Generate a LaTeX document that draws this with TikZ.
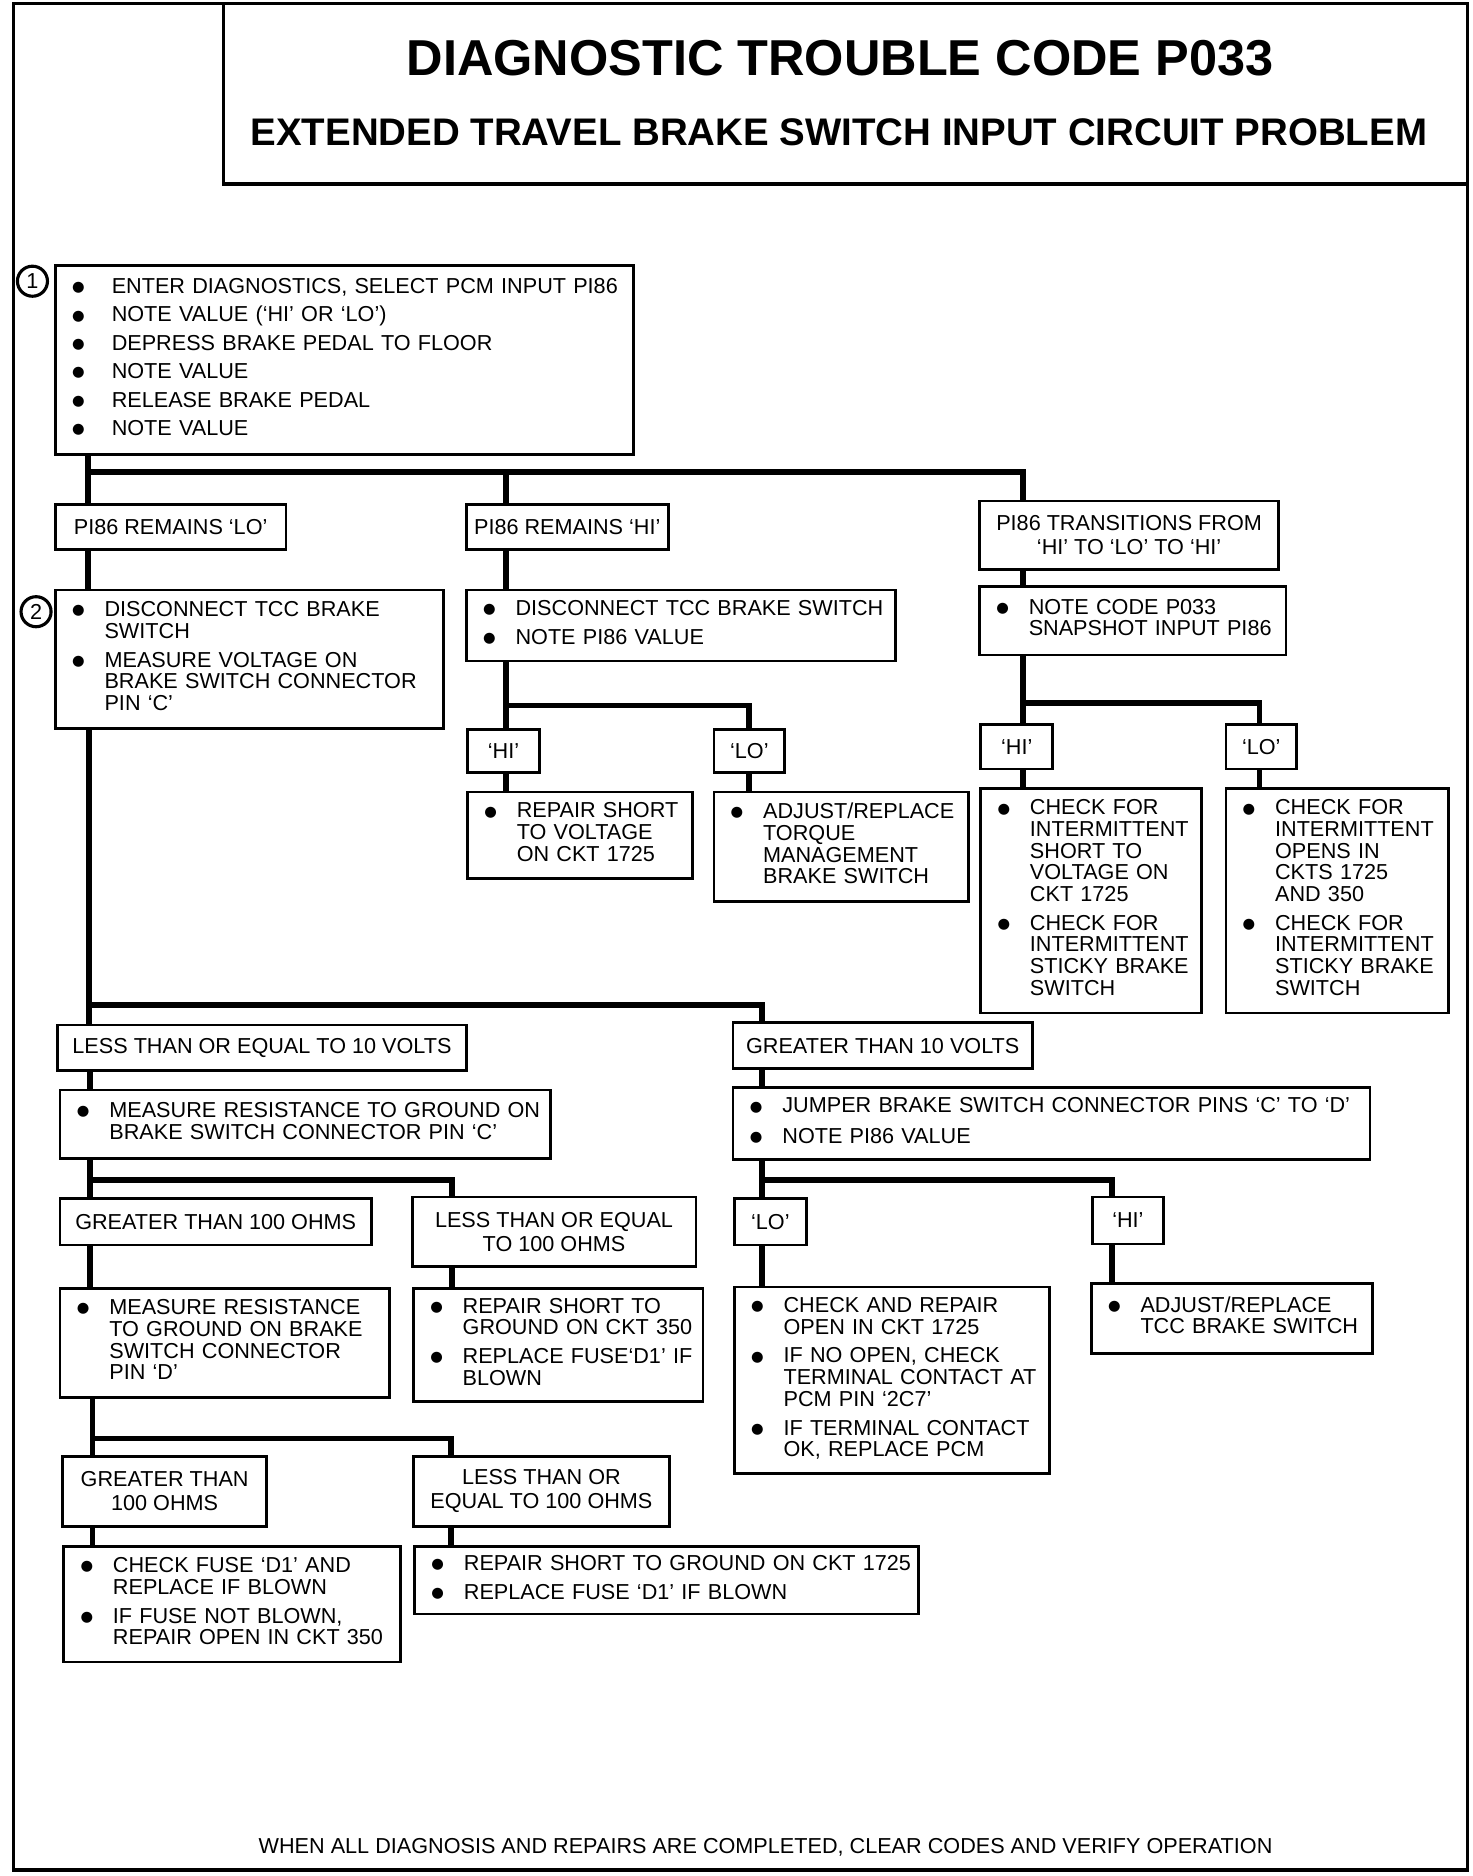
\documentclass[tikz,border=0pt]{standalone}
\usepackage{fontspec}
\setmainfont{Liberation Sans}
\newfontfamily\symfont{DejaVu Sans}
\hyphenpenalty=10000
\newcommand\bdot{\raisebox{0.8pt}{\symfont\fontsize{6}{6}\selectfont ●}}
\newcommand\blist[2][13.5pt]{\begin{tabular}{@{}p{#1}@{}l@{}}#2\end{tabular}}

\begin{document}
\begin{tikzpicture}[x=0.5pt, y=-0.5pt,
    box/.style={draw, line width=1.1pt, anchor=north west, outer sep=0pt, inner xsep=7pt, inner ysep=0pt, align=left, font=\fontsize{9}{9}\selectfont},
    tag/.style={draw, line width=1.1pt, anchor=north west, outer sep=0pt, inner sep=0pt, align=center, font=\fontsize{9}{10}\selectfont},
    link/.style={line width=2.4pt},
    stepnum/.style={circle, draw, line width=1.3pt, minimum size=12.5pt, inner sep=0pt, font=\fontsize{9}{9}\selectfont}]
    \useasboundingbox (0,0) rectangle (1225,1561);
    \draw [line width=1.4pt] (11,3) rectangle (1221,1556);
    \draw [line width=1.4pt] (186,3) rectangle (1221,153);
    \node [font=\bfseries\fontsize{21}{21}\selectfont, inner sep=0pt] (head) at (699,48) {DIAGNOSTIC TROUBLE CODE P033};
    \node [font=\bfseries\fontsize{16}{16}\selectfont, inner sep=0pt] (subhead) at (698,110) {EXTENDED TRAVEL BRAKE SWITCH INPUT CIRCUIT PROBLEM};

    \node [stepnum] (n1) at (27,234) {1};
    \node [box, minimum width=240.5pt, text width=226.5pt, minimum height=78.5pt] (step1) at (46,221) {\blist[16.5pt]{\bdot & ENTER DIAGNOSTICS, SELECT PCM INPUT PI86\\[2.8pt]
        \bdot & NOTE VALUE (‘HI’ OR ‘LO’)\\[2.8pt] \bdot & DEPRESS BRAKE PEDAL TO FLOOR\\[2.8pt]
        \bdot & NOTE VALUE\\[2.8pt] \bdot & RELEASE BRAKE PEDAL\\[2.8pt] \bdot & NOTE VALUE}};

    \node [tag, minimum width=96pt, minimum height=18.5pt] (lo1) at (46,420) {PI86 REMAINS ‘LO’};
    \node [tag, minimum width=84pt, minimum height=18.5pt] (hi1) at (388,420) {PI86 REMAINS ‘HI’};
    \node [tag, minimum width=124.5pt, minimum height=28.5pt] (tr1) at (815,417) {PI86 TRANSITIONS FROM\\‘HI’ TO ‘LO’ TO ‘HI’};

    \node [stepnum] (n2) at (30,509) {2};
    \node [box, minimum width=161.5pt, text width=147.5pt, minimum height=57.5pt] (step2) at (46,491) {\blist{\bdot & DISCONNECT TCC BRAKE\\ & SWITCH\\[3pt]
        \bdot & MEASURE VOLTAGE ON\\ & BRAKE SWITCH CONNECTOR\\ & PIN ‘C’}};
    \node [box, minimum width=178.5pt, text width=164.5pt, minimum height=29.5pt] (dtcc) at (388,491) {\blist{\bdot & DISCONNECT TCC BRAKE SWITCH\\[3pt] \bdot & NOTE PI86 VALUE}};
    \node [box, minimum width=127.5pt, text width=113.5pt, minimum height=28.5pt] (snap) at (815,488) {\blist{\bdot & NOTE CODE P033\\ & SNAPSHOT INPUT PI86}};

    \node [tag, minimum width=30pt, minimum height=18pt] (hiA) at (389,607) {‘HI’};
    \node [tag, minimum width=29.5pt, minimum height=18pt] (loA) at (594,607) {‘LO’};
    \node [box, minimum width=93.5pt, text width=79.5pt, minimum height=36pt] (rsv) at (389,659) {\blist{\bdot & REPAIR SHORT\\ & TO VOLTAGE\\ & ON CKT 1725}};
    \node [box, minimum width=106pt, text width=92pt, minimum height=45.5pt] (adjtq) at (594,659) {\blist{\bdot & ADJUST/REPLACE\\ & TORQUE\\ & MANAGEMENT\\ & BRAKE SWITCH}};

    \node [tag, minimum width=30pt, minimum height=18.5pt] (hiB) at (816,603) {‘HI’};
    \node [tag, minimum width=29.5pt, minimum height=18.5pt] (loB) at (1020,603) {‘LO’};
    \node [box, minimum width=92pt, text width=78pt, minimum height=93.5pt] (chkA) at (816,656) {\blist{\bdot & CHECK FOR\\ & INTERMITTENT\\ & SHORT TO\\ & VOLTAGE ON\\ & CKT 1725\\[3pt]
        \bdot & CHECK FOR\\ & INTERMITTENT\\ & STICKY BRAKE\\ & SWITCH}};
    \node [box, minimum width=92.5pt, text width=78.5pt, minimum height=93.5pt] (chkB) at (1020,656) {\blist{\bdot & CHECK FOR\\ & INTERMITTENT\\ & OPENS IN\\ & CKTS 1725\\ & AND 350\\[3pt]
        \bdot & CHECK FOR\\ & INTERMITTENT\\ & STICKY BRAKE\\ & SWITCH}};

    \node [tag, minimum width=170pt, minimum height=19pt] (le10) at (48,853) {LESS THAN OR EQUAL TO 10 VOLTS};
    \node [tag, minimum width=124.5pt, minimum height=19pt] (gt10) at (610,851) {GREATER THAN 10 VOLTS};
    \node [box, minimum width=204pt, text width=190pt, minimum height=28.5pt] (mres) at (50,907) {\blist{\bdot & MEASURE RESISTANCE TO GROUND ON\\ & BRAKE SWITCH CONNECTOR PIN ‘C’}};
    \node [box, minimum width=265pt, text width=251pt, minimum height=30pt] (jump) at (610,905) {\blist{\bdot & JUMPER BRAKE SWITCH CONNECTOR PINS ‘C’ TO ‘D’\\[3.5pt] \bdot & NOTE PI86 VALUE}};

    \node [tag, minimum width=129.5pt, minimum height=19.5pt] (gt100) at (50,997) {GREATER THAN 100 OHMS};
    \node [tag, minimum width=118pt, minimum height=29pt] (le100) at (343,996) {LESS THAN OR EQUAL\\TO 100 OHMS};
    \node [box, minimum width=137pt, text width=123pt, minimum height=45.5pt] (mresd) at (50,1072) {\blist{\bdot & MEASURE RESISTANCE\\ & TO GROUND ON BRAKE\\ & SWITCH CONNECTOR\\ & PIN ‘D’}};
    \node [box, minimum width=120.5pt, text width=106.5pt, minimum height=47pt] (rsg350) at (344,1072) {\blist{\bdot & REPAIR SHORT TO\\ & GROUND ON CKT 350\\[3pt] \bdot & REPLACE FUSE‘D1’ IF\\ & BLOWN}};

    \node [tag, minimum width=30pt, minimum height=19.5pt] (loC) at (611,997) {‘LO’};
    \node [tag, minimum width=29.5pt, minimum height=19.5pt] (hiC) at (909,996) {‘HI’};
    \node [box, minimum width=131pt, text width=117pt, minimum height=77.5pt] (chkrep) at (611,1071) {\blist{\bdot & CHECK AND REPAIR\\ & OPEN IN CKT 1725\\[3pt]
        \bdot & IF NO OPEN, CHECK\\ & TERMINAL CONTACT AT\\ & PCM PIN ‘2C7’\\[3pt] \bdot & IF TERMINAL CONTACT\\ & OK, REPLACE PCM}};
    \node [box, minimum width=117pt, text width=103pt, minimum height=29pt] (adjtcc) at (908,1068) {\blist{\bdot & ADJUST/REPLACE\\ & TCC BRAKE SWITCH}};

    \node [tag, minimum width=85pt, minimum height=29pt] (gt100b) at (52,1212) {GREATER THAN\\100 OHMS};
    \node [tag, minimum width=106.5pt, minimum height=29pt] (le100b) at (344,1212) {LESS THAN OR\\EQUAL TO 100 OHMS};
    \node [box, minimum width=140pt, text width=126pt, minimum height=48pt] (chkfuse) at (53,1287) {\blist{\bdot & CHECK FUSE ‘D1’ AND\\ & REPLACE IF BLOWN\\[3pt] \bdot & IF FUSE NOT BLOWN,\\ & REPAIR OPEN IN CKT 350}};
    \node [box, minimum width=209.5pt, text width=195.5pt, minimum height=28pt] (rsg1725) at (345,1287) {\blist{\bdot & REPAIR SHORT TO GROUND ON CKT 1725\\[3pt] \bdot & REPLACE FUSE ‘D1’ IF BLOWN}};

    \node [font=\fontsize{9}{9}\selectfont, inner sep=0pt] (foot) at (637,1537) {WHEN ALL DIAGNOSIS AND REPAIRS ARE COMPLETED, CLEAR CODES AND VERIFY OPERATION};

    \coordinate (k1) at (73,393);
    \coordinate (k2) at (421,393);
    \coordinate (k3) at (851,393);
    \coordinate (k4) at (421,587);
    \coordinate (k5) at (623,587);
    \coordinate (k6) at (851,585);
    \coordinate (k7) at (1048,585);
    \coordinate (k8) at (74,836);
    \coordinate (k9) at (634,836);
    \coordinate (k10) at (75,982);
    \coordinate (k11) at (376,982);
    \coordinate (k12) at (634,982);
    \coordinate (k13) at (925,982);
    \coordinate (k14) at (77,1197);
    \coordinate (k15) at (375,1197);

    \draw [link] (step1.south -| k1) -- (lo1.north -| k1);
    \draw [link] (k1) -| (tr1.north -| k3);
    \draw [link] (k2) -- (hi1.north -| k2);
    \draw [link] (lo1.south -| k1) -- (step2.north -| k1);
    \draw [link] (hi1.south -| k2) -- (dtcc.north -| k2);
    \draw [link] (tr1.south -| k3) -- (snap.north -| k3);

    \draw [link] (dtcc.south -| k4) -- (hiA.north -| k4);
    \draw [link] (k4) -| (loA.north -| k5);
    \draw [link] (hiA.south -| k4) -- (rsv.north -| k4);
    \draw [link] (loA.south -| k5) -- (adjtq.north -| k5);

    \draw [link] (snap.south -| k6) -- (hiB.north -| k6);
    \draw [link] (k6) -| (loB.north -| k7);
    \draw [link] (hiB.south -| k6) -- (chkA.north -| k6);
    \draw [link] (loB.south -| k7) -- (chkB.north -| k7);

    \draw [link] (step2.south -| k8) -- (le10.north -| k8);
    \draw [link] (k8) -| (gt10.north -| k9);
    \draw [link] (le10.south -| k10) -- (mres.north -| k10);
    \draw [link] (gt10.south -| k9) -- (jump.north -| k9);

    \draw [link] (mres.south -| k10) -- (gt100.north -| k10);
    \draw [link] (k10) -| (le100.north -| k11);
    \draw [link] (gt100.south -| k10) -- (mresd.north -| k10);
    \draw [link] (le100.south -| k11) -- (rsg350.north -| k11);

    \draw [link] (jump.south -| k12) -- (loC.north -| k12);
    \draw [link] (k12) -| (hiC.north -| k13);
    \draw [link] (loC.south -| k12) -- (chkrep.north -| k12);
    \draw [link] (hiC.south -| k13) -- (adjtcc.north -| k13);

    \draw [link] (mresd.south -| k14) -- (gt100b.north -| k14);
    \draw [link] (k14) -| (le100b.north -| k15);
    \draw [link] (gt100b.south -| k14) -- (chkfuse.north -| k14);
    \draw [link] (le100b.south -| k15) -- (rsg1725.north -| k15);
\end{tikzpicture}
\end{document}
